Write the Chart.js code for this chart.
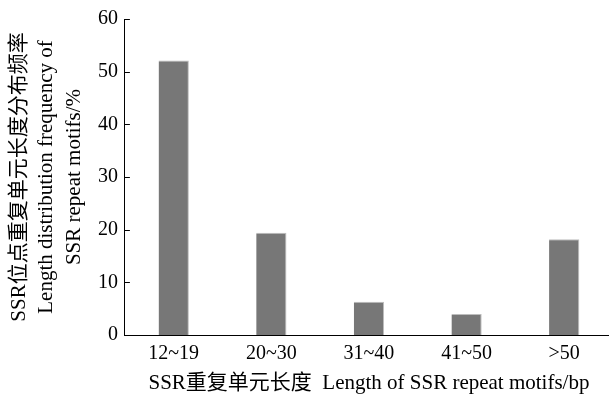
<!DOCTYPE html>
<html>
<head>
<meta charset="utf-8">
<script src="https://cdn.jsdelivr.net/npm/chart.js@4/dist/chart.umd.min.js"></script>
<style>
  html, body { margin: 0; padding: 0; background: #fff; overflow: hidden; }
  #wrap { width: 613px; height: 394px; }
</style>
</head>
<body>
<div id="wrap"><canvas id="chart" width="613" height="394"></canvas></div>
<script>
// data
const categories = ['12~19', '20~30', '31~40', '41~50', '>50']
const frequency = [52.1, 19.4, 6.3, 4.0, 18.2]
const yTicks = [0, 10, 20, 30, 40, 50, 60]

const serif = "'Liberation Serif', 'Noto Sans CJK SC', serif"

// short inward tick marks on the y axis
const innerTicks = {
  id: 'innerTicks',
  afterDraw(chart) {
    const ctx = chart.ctx
    const y = chart.scales.y
    ctx.save()
    ctx.strokeStyle = '#000'
    ctx.lineWidth = 1
    yTicks.forEach(v => {
      const py = Math.round(y.getPixelForValue(v)) + 0.5
      ctx.beginPath()
      ctx.moveTo(y.right, py)
      ctx.lineTo(y.right + 5, py)
      ctx.stroke()
    })
    ctx.restore()
  }
}

new Chart(document.getElementById('chart').getContext('2d'), {
  type: 'bar',
  plugins: [innerTicks],
  data: {
    labels: categories,
    datasets: [{
      data: frequency,
      backgroundColor: '#777777',
      borderColor: '#bdbdbd',
      borderWidth: { top: 1, right: 1, left: 0, bottom: 0 },
      categoryPercentage: 1,
      barPercentage: 0.31
    }]
  },
  options: {
    responsive: false,
    animation: false,
    layout: { padding: { top: 10, left: 6, right: 0, bottom: 0 } },
    plugins: {
      legend: { display: false },
      tooltip: { enabled: false }
    },
    scales: {
      x: {
        grid: { display: false, drawTicks: false },
        border: { display: true, color: '#000', width: 1 },
        ticks: { color: '#000', padding: 9, font: { family: serif, size: 20, lineHeight: 1.0 } },
        title: {
          display: true,
          text: 'SSR重复单元长度  Length of SSR repeat motifs/bp',
          color: '#000',
          font: { family: serif, size: 21, lineHeight: 1.0 },
          padding: { top: 0, bottom: 0 }
        }
      },
      y: {
        min: 0,
        max: 60,
        afterBuildTicks: axis => { axis.ticks = yTicks.map(v => ({ value: v })) },
        grid: { display: false, drawTicks: false },
        border: { display: true, color: '#000', width: 1 },
        ticks: { color: '#000', padding: 7, font: { family: serif, size: 20 } },
        title: {
          display: true,
          text: ['SSR位点重复单元长度分布频率', 'Length distribution frequency of', 'SSR repeat motifs/%'],
          color: '#000',
          font: { family: serif, size: 21, lineHeight: 1.3 },
          padding: { top: 0, bottom: 3 }
        }
      }
    }
  }
})
</script>
</body>
</html>
